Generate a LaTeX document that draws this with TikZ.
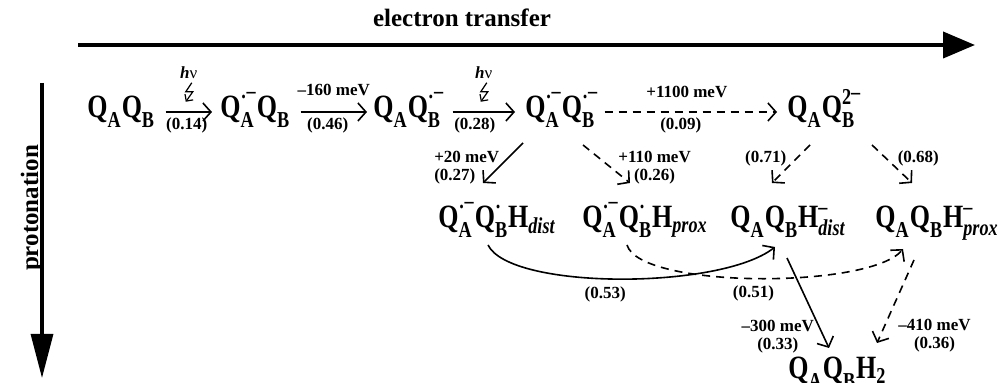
\documentclass[tikz,border=0pt]{standalone}
\usepackage{amsmath}
\usepackage{graphicx}
\usepackage{fontspec}
\setmainfont{Liberation Serif}
\usetikzlibrary{arrows.meta,calc}

\newcommand{\Q}[1]{{\textbf{Q}\rule[-3.5pt]{0pt}{1pt}}_{\textbf{#1}}}
\newcommand{\Hs}[1]{{\textbf{H}\rule[-1.5pt]{0pt}{1pt}}_{#1}}
\newcommand{\bfit}[1]{\textbf{\textit{#1}}}
\newcommand{\rad}{\textbf{·}}
\newcommand{\ani}{\textbf{–}}
\newcommand{\radani}{\textbf{·\raisebox{.25em}{–}}}
\newcommand{\dian}{\textbf{2\raisebox{.2em}{–}}}
\newcommand{\spc}[1]{\scalebox{1}[1.25]{$#1$}}

\begin{document}
\begin{tikzpicture}[x=0.5pt, y=-0.5pt,
  species/.style={font=\fontsize{13}{15}\selectfont, inner sep=0pt, anchor=base west},
  lbl/.style={font=\fontsize{8.5}{9}\selectfont\bfseries, inner sep=1pt},
  axislbl/.style={font=\fontsize{12.5}{15}\selectfont\bfseries},
  axis/.style={line width=2pt, -{Triangle[length=16pt,width=13pt]}},
  rxn/.style={line width=0.8pt, -{Straight Barb[length=4pt,width=9pt]}},
  rxndash/.style={rxn, dash pattern=on 4pt off 3pt},
  bolt/.style={line width=0.6pt, -{Straight Barb[length=2.5pt,width=5pt]}},
]
\useasboundingbox (0,0) rectangle (1000,383);

%% ── axes ──
\coordinate (etStart) at (78,45);
\coordinate (etEnd) at (975,45);
\draw[axis] (etStart) -- (etEnd);
\node[axislbl] (etLabel) at (462,18) {electron transfer};

\coordinate (prStart) at (42,83);
\coordinate (prEnd) at (42,378);
\draw[line width=1.6pt, -{Triangle[length=22pt,width=11pt]}] (prStart) -- (prEnd);
\node[axislbl, rotate=90] (prLabel) at (32,208) {protonation};

%% ── row 1: electron transfer ──
\node[species] (n1) at (87,118) {\spc{\Q{A}\Q{B}}};
\node[species] (n2) at (220,118) {\spc{\Q{A}^{\radani}\Q{B}}};
\node[species] (n3) at (373,118) {\spc{\Q{A}\Q{B}^{\radani}}};
\node[species] (n4) at (525,118) {\spc{\Q{A}^{\radani}\Q{B}^{\radani}}};
\node[species] (n5) at (787,118) {\spc{\Q{A}\Q{B}^{\dian}}};

%% ── row 2: first protonation ──
\node[species] (n6) at (438,228) {\spc{\Q{A}^{\radani}\Q{B}^{\rad}\Hs{\bfit{dist}}}};
\node[species] (n7) at (582,228) {\spc{\Q{A}^{\radani}\Q{B}^{\rad}\Hs{\bfit{prox}}}};
\node[species] (n8) at (730,228) {\spc{\Q{A}\Q{B}\Hs{\bfit{dist}}^{\ani}}};
\node[species] (n9) at (875,228) {\spc{\Q{A}\Q{B}\Hs{\bfit{prox}}^{\ani}}};

%% ── row 3: quinol ──
\node[species] (n10) at (788,379) {\spc{\Q{A}\Q{B}\Hs{\textbf{2}}}};

%% ── row 1 arrows ──
\draw[rxn] ($(n1.base east)+(10,-6)$) -- ($(n2.base west)+(-8,-6)$)
  node[lbl, midway, yshift=19.5pt] (hv1) {\textit{h}{\mdseries ν}}
  node[lbl, midway, xshift=-1pt, yshift=-6.5pt] {(0.14)};
\draw[bolt] ($(hv1.south)+(3,1)$) -- ++(-6,9) -- ++(7,0) -- ++(-7,10);

\draw[rxn] ($(n2.base east)+(10,-6)$) -- ($(n3.base west)+(-6,-6)$)
  node[lbl, midway, yshift=11pt] {–160 meV}
  node[lbl, midway, xshift=-3pt, yshift=-6.5pt] {(0.46)};

\draw[rxn] ($(n3.base east)+(8,-6)$) -- ($(n4.base west)+(-10,-6)$)
  node[lbl, midway, yshift=19.5pt] (hv2) {\textit{h}{\mdseries ν}}
  node[lbl, midway, xshift=-4.5pt, yshift=-6.5pt] {(0.28)};
\draw[bolt] ($(hv2.south)+(3,1)$) -- ++(-6,9) -- ++(7,0) -- ++(-7,10);

\draw[rxndash] ($(n4.base east)+(6,-6)$) -- ($(n5.base west)+(-10,-6)$)
  node[lbl, midway, xshift=-2pt, yshift=10pt] {+1100 meV}
  node[lbl, midway, xshift=-5pt, yshift=-6.5pt] {(0.09)};

%% ── row 1 -> row 2 ──
\draw[rxn] ($(n4.base west)+(-2,25)$) -- ($(n6.base west)+(45,-45)$)
  node[lbl, midway, anchor=east, align=left, xshift=-0.5pt, yshift=-2.5pt] {+20 meV\\(0.27)};
\draw[rxndash] ($(n4.base west)+(58,27)$) -- ($(n7.base west)+(48,-45)$)
  node[lbl, midway, anchor=west, align=center, xshift=4.5pt, yshift=-2pt] {+110 meV\\(0.26)};
\draw[rxndash] ($(n5.base west)+(23,27)$) -- ($(n8.base west)+(42,-45)$)
  node[lbl, midway, anchor=east, xshift=-1pt, yshift=3pt] {(0.71)};
\draw[rxndash] ($(n5.base west)+(85,27)$) -- ($(n9.base west)+(37,-45)$)
  node[lbl, midway, anchor=west, xshift=1.5pt, yshift=3pt] {(0.68)};

%% ── row 2 -> row 2 ──
\draw[rxn] ($(n6.base west)+(50,17)$) .. controls +(22,45) and +(-55,43) .. ($(n8.base west)+(45,19)$)
  node[lbl, pos=0.5, xshift=-7pt, yshift=-7.5pt] {(0.53)};
\draw[rxndash] ($(n7.base west)+(45,17)$) .. controls +(13,44) and +(-33,40) .. ($(n9.base west)+(28,21)$)
  node[lbl, pos=0.5, xshift=-2pt, yshift=-7.5pt] {(0.51)};

%% ── row 2 -> row 3 ──
\draw[rxn] ($(n8.base west)+(57,30)$) -- ($(n10.base west)+(41,-31)$)
  node[lbl, pos=0.78, anchor=east, align=center, xshift=-1.5pt, yshift=-4pt] {–300 meV\\(0.33)};
\draw[rxndash] ($(n9.base west)+(39,32)$) -- ($(n10.base west)+(89,-36)$)
  node[lbl, pos=0.82, anchor=west, align=center, xshift=6pt, yshift=-4pt] {–410 meV\\(0.36)};

\end{tikzpicture}
\end{document}
